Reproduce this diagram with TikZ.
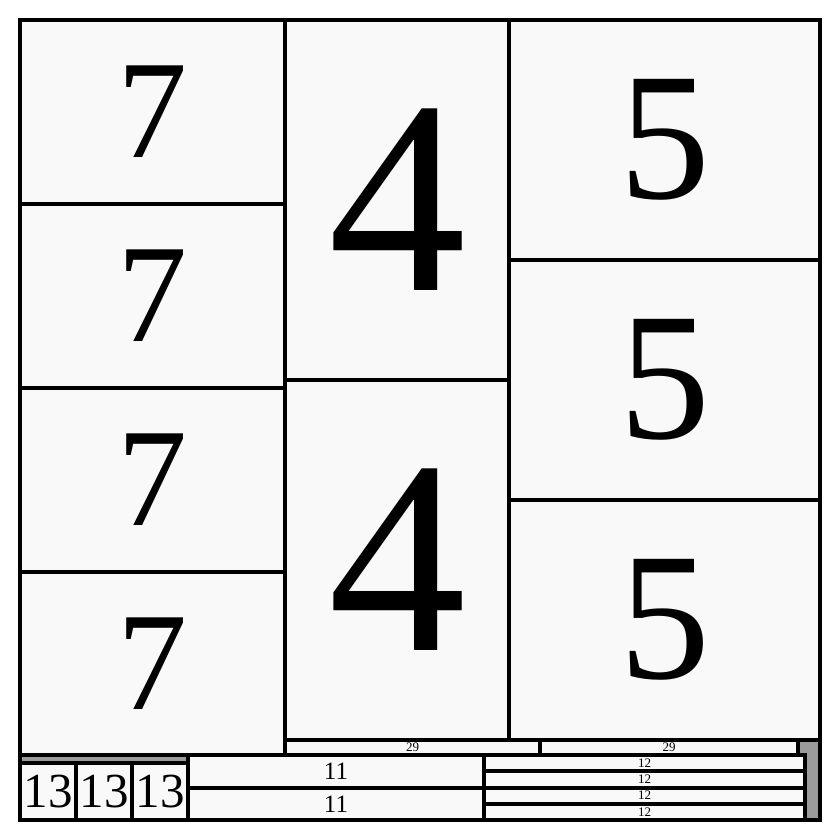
\documentclass[tikz,border=0pt]{standalone}
\usepackage{fontspec}
\setmainfont{Liberation Serif}
\usepackage{xcolor}
\usepackage{tikz}
\usetikzlibrary{positioning}

\definecolor{cellfill}{RGB}{249,249,249}
\definecolor{gapgray}{RGB}{155,155,155}

\tikzset{
	cell/.style={draw,line width=4pt,fill=cellfill,rectangle,inner sep=0pt,outer sep=0pt,anchor=north west},
	huge num/.style={font=\fontsize{276}{276}\selectfont},
	big num/.style={font=\fontsize{182}{182}\selectfont},
	mid num/.style={font=\fontsize{140}{140}\selectfont},
	small num/.style={font=\fontsize{49}{49}\selectfont},
	tiny num/.style={font=\fontsize{25}{25}\selectfont},
	mini num/.style={font=\fontsize{13}{13}\selectfont}
}

\begin{document}
\begin{tikzpicture}[x=1pt,y=-1pt]
	\useasboundingbox (0,0) rectangle (840,840);
	\fill[gapgray] (20,20) rectangle (820,820);
	
	% left column
	\node[cell,mid num,minimum width=265pt,minimum height=184pt] (seven 1) at (20,20) {7};
	\node[cell,mid num,minimum width=265pt,minimum height=184pt] (seven 2) at (20,204) {7};
	\node[cell,mid num,minimum width=265pt,minimum height=184pt] (seven 3) at (20,388) {7};
	\node[cell,mid num,minimum width=265pt,minimum height=183pt] (seven 4) at (20,572) {7};
	
	% middle column
	\node[cell,huge num,minimum width=224pt,minimum height=360pt] (four 1) at (285,20) {4};
	\node[cell,huge num,minimum width=224pt,minimum height=360pt] (four 2) at (285,380) {4};
	
	% right column
	\node[cell,big num,minimum width=311pt,minimum height=240pt] (five 1) at (509,20) {5};
	\node[cell,big num,minimum width=311pt,minimum height=240pt] (five 2) at (509,260) {5};
	\node[cell,big num,minimum width=311pt,minimum height=240pt] (five 3) at (509,500) {5};
	
	\node[cell,mini num,minimum width=255pt,minimum height=15pt] (strip 1) at (285,740) {29};
	\node[cell,mini num,minimum width=258pt,minimum height=15pt] (strip 2) at (540,740) {29};
	
	% bottom row
	\node[cell,small num,minimum width=56pt,minimum height=57pt] (thirteen 1) at (20,763) {13};
	\node[cell,small num,minimum width=56pt,minimum height=57pt] (thirteen 2) at (76,763) {13};
	\node[cell,small num,minimum width=56pt,minimum height=57pt] (thirteen 3) at (132,763) {13};
	
	\node[cell,tiny num,minimum width=296pt,minimum height=33pt] (eleven 1) at (188,755) {11};
	\node[cell,tiny num,minimum width=296pt,minimum height=32pt] (eleven 2) at (188,788) {11};
	
	\node[cell,mini num,minimum width=321pt,minimum height=16.25pt] (twelve 1) at (484,755) {12};
	\node[cell,mini num,minimum width=321pt,minimum height=16.25pt] (twelve 2) at (484,771.25) {12};
	\node[cell,mini num,minimum width=321pt,minimum height=16.25pt] (twelve 3) at (484,787.5) {12};
	\node[cell,mini num,minimum width=321pt,minimum height=16.25pt] (twelve 4) at (484,803.75) {12};
	
	\draw[line width=4pt] (20,20) rectangle (820,820);
\end{tikzpicture}
\end{document}
